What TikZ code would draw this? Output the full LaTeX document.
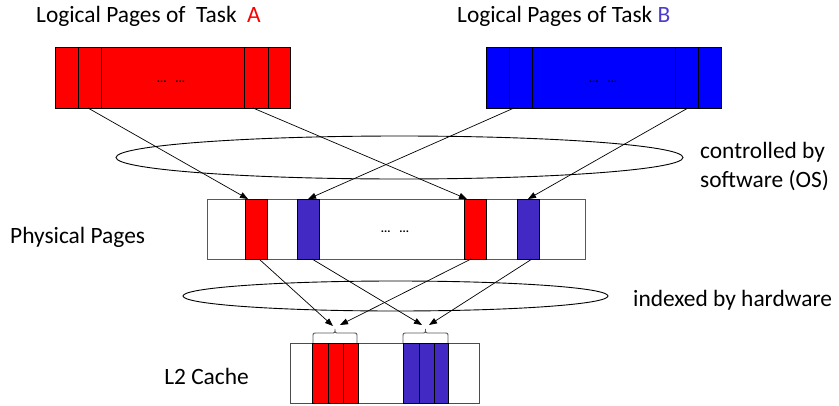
\documentclass[tikz,border=0pt]{standalone}
\usepackage{fontspec}
\setmainfont{Carlito}
\usetikzlibrary{arrows.meta}
\definecolor{pblue}{HTML}{4329C4}
\definecolor{tblue}{HTML}{4B3BD0}
\definecolor{lblue}{HTML}{0000FF}
\newcommand{\gapdots}{...\hspace{9pt}...}
\begin{document}
\begin{tikzpicture}[x=1pt,y=-1pt,
  lbl/.style={anchor=base west, inner sep=0pt, font=\fontsize{23.4}{28}\selectfont},
  dots/.style={inner sep=0pt, font=\fontsize{12}{13}\bfseries\selectfont},
  pagebox/.style={draw=black, line width=0.9pt, inner sep=0pt},
  cell/.style={draw=black, line width=0.9pt, inner sep=0pt, minimum width=22pt, minimum height=60pt},
  map/.style={line width=0.7pt, -{Triangle[length=8pt,width=6pt]}},
  ring/.style={draw=black, line width=0.9pt, fill=none},
  brc/.style={draw=black!65, line width=0.9pt}
]
\useasboundingbox (0,0) rectangle (839,405);

% ---- labels ----
\node[lbl] (tA) at (36,22) {Logical Pages of~~Task~~\textcolor{red}{A}};
\node[lbl] (tB) at (457,22) {Logical Pages of Task \textcolor{tblue}{B}};
\node[lbl] (sw1) at (700,158) {controlled by};
\node[lbl] (sw2) at (700,187) {software (OS)};
\node[lbl] (phys) at (10,243) {Physical Pages};
\node[lbl] (hw) at (633,306) {indexed by hardware};
\node[lbl, anchor=base east] (l2) at (249,384) {L2 Cache};

% ---- logical pages of task A ----
\node[pagebox, fill=red, minimum width=235pt, minimum height=61pt] (LA) at (172.5,77.5) {};
\draw[line width=0.9pt] (78,47) -- (78,108) (101,47) -- (101,108)
                        (244,47) -- (244,108) (268,47) -- (268,108);
\node[dots] (dA) at (171,82) {\gapdots};

% ---- logical pages of task B ----
\node[pagebox, fill=lblue, minimum width=235pt, minimum height=61pt] (LB) at (603.5,77.5) {};
\draw[line width=0.9pt] (509,47) -- (509,108) (532,47) -- (532,108)
                        (675,47) -- (675,108) (698,47) -- (698,108);
\node[dots] (dB) at (603,82) {\gapdots};

% ---- physical pages ----
\node[pagebox, draw=black!65, minimum width=378pt, minimum height=60pt] (PP) at (396,229) {};
\node[cell, fill=red]   (p1) at (256,229) {};
\node[cell, fill=pblue] (p2) at (308.5,229) {};
\node[cell, fill=red]   (p3) at (475,229) {};
\node[cell, fill=pblue] (p4) at (528,229) {};
\node[dots] (dP) at (395,232) {\gapdots};

% ---- L2 cache ----
\node[pagebox, draw=black!70, minimum width=189pt, minimum height=60pt] (L2) at (384.5,373) {};
\node[cell, fill=red, minimum width=46pt]   (cA) at (335,373) {};
\node[cell, fill=pblue, minimum width=45pt] (cB) at (425.5,373) {};
\draw[line width=0.9pt] (328,343) -- (328,403) (343,343) -- (343,403)
                        (419,343) -- (419,403) (434,343) -- (434,403);

% ---- mapping regions ----
\draw[ring] (399.5,157.5) ellipse [x radius=283.5pt, y radius=21.5pt];
\draw[ring] (395.5,296) ellipse [x radius=212.5pt, y radius=15pt];

% ---- braces over the cache sets ----
\draw[brc] (313,343) -- (313,337) .. controls (313,333) .. (317,333) -- (331,333)
           .. controls (335,333) .. (335,329) .. controls (335,333) .. (339,333)
           -- (353,333) .. controls (357,333) .. (357,337) -- (357,343);
\draw[brc] (403,343) -- (403,337) .. controls (403,333) .. (407,333) -- (421.5,333)
           .. controls (425.5,333) .. (425.5,329) .. controls (425.5,333) .. (429.5,333)
           -- (444,333) .. controls (448,333) .. (448,337) -- (448,343);

% ---- connector end points ----
\coordinate (a1) at (88,108);   \coordinate (a2) at (253,108);
\coordinate (b1) at (514,108);  \coordinate (b2) at (688,108);
\coordinate (p1t) at (248,199); \coordinate (p3t) at (467,199);
\coordinate (p2t) at (308,199); \coordinate (p4t) at (528,199);
\coordinate (p1b) at (259,259); \coordinate (p2b) at (312,259);
\coordinate (p3b) at (471,259); \coordinate (p4b) at (532,259);
\coordinate (cAl) at (333,326); \coordinate (cAr) at (340,325);
\coordinate (cBl) at (422,325); \coordinate (cBr) at (429,325);

% ---- software mapping ----
\draw[map] (a1) -- (p1t);
\draw[map] (a2) -- (p3t);
\draw[map] (b1) -- (p2t);
\draw[map] (b2) -- (p4t);

% ---- hardware indexing ----
\draw[map] (p1b) -- (cAl);
\draw[map] (p3b) -- (cAr);
\draw[map] (p2b) -- (cBl);
\draw[map] (p4b) -- (cBr);
\end{tikzpicture}
\end{document}
